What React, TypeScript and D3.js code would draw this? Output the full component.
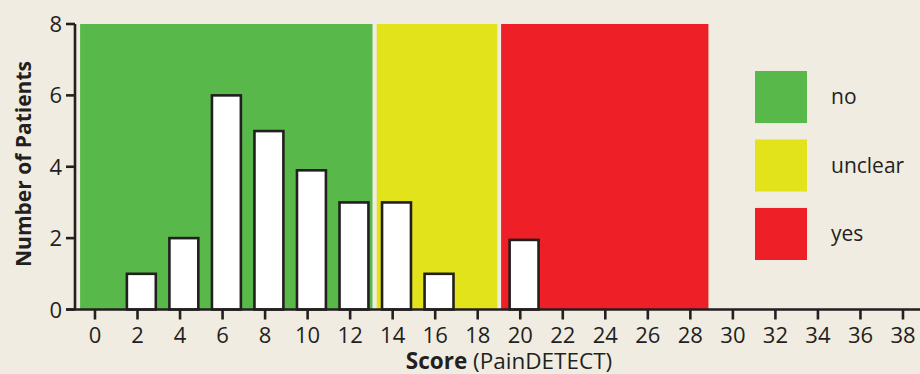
import React from "react";
import * as d3 from "d3";

const scores = [2, 4, 6, 8, 10, 12, 14, 16, 20];
const patients = [1, 2, 6, 5, 3.9, 3, 3, 1, 1.95];
const zoneNames = ["no", "unclear", "yes"];
const zoneStart = [-0.7, 13.25, 19.1];
const zoneEnd = [13.05, 18.92, 28.85];
const zoneColors = ["#58b94a", "#e2e31a", "#ee1f27"];
const xTicks = d3.range(0, 40, 2);
const yTicks = [0, 2, 4, 6, 8];

const W = 920;
const H = 374;
const FONT = "'Open Sans', 'Noto Sans', sans-serif";
const INK = "#231f20";

export default function App() {
  const x = d3.scaleLinear().domain([-0.94, 38.8]).range([75, 920]);
  const y = d3.scaleLinear().domain([0, 8]).range([309.5, 24]);
  const legendY = d3.scaleBand().domain(zoneNames).range([71, 260]).paddingInner(0.24).paddingOuter(0);

  return (
    <svg width={W} height={H} style={{ position: "absolute", left: 0, top: 0, display: "block" }} fontFamily={FONT}>
      <rect x={0} y={0} width={W} height={H} fill="#f0ece2" />
      {zoneNames.map((n, i) => (
        <rect key={n} x={x(zoneStart[i])} y={y(8)} width={x(zoneEnd[i]) - x(zoneStart[i])} height={y(0) - y(8)} fill={zoneColors[i]} />
      ))}
      {scores.map((s, i) => (
        <rect key={s} x={x(s - 0.5)} y={y(patients[i])} width={x(s + 0.86) - x(s - 0.5)} height={y(0) - y(patients[i])}
          fill="#ffffff" stroke={INK} strokeWidth={2.6} />
      ))}
      {/* y axis */}
      <line x1={75} x2={75} y1={y(8)} y2={y(0)} stroke={INK} strokeWidth={2.6} />
      {yTicks.map((t) => (
        <g key={t}>
          <line x1={66} x2={75} y1={y(t)} y2={y(t)} stroke={INK} strokeWidth={2.6} />
          <text x={62} y={y(t) + 8} textAnchor="end" fontSize={22} fill={INK}>{t}</text>
        </g>
      ))}
      {/* x axis */}
      <line x1={66} x2={W} y1={y(0)} y2={y(0)} stroke={INK} strokeWidth={2.6} />
      {xTicks.map((t) => (
        <g key={t}>
          <line x1={x(t)} x2={x(t)} y1={y(0)} y2={y(0) + 10} stroke={INK} strokeWidth={2.6} />
          <text x={x(t)} y={343} textAnchor="middle" fontSize={22} fill={INK}>{t}</text>
        </g>
      ))}
      <text x={509} y={369} textAnchor="middle" fontSize={22.5} fill={INK}>
        <tspan fontWeight="bold">Score</tspan> (PainDETECT)
      </text>
      <text transform={`translate(31,164) rotate(-90)`} textAnchor="middle" fontSize={21} fontWeight="bold" fill={INK}>
        Number of Patients
      </text>
      {zoneNames.map((n, i) => (
        <g key={n}>
          <rect x={755} y={legendY(n)} width={52} height={legendY.bandwidth()} fill={zoneColors[i]} />
          <text x={831} y={(legendY(n) as number) + legendY.bandwidth() / 2 + 7} fontSize={21} fill={INK}>{n}</text>
        </g>
      ))}
    </svg>
  );
}
